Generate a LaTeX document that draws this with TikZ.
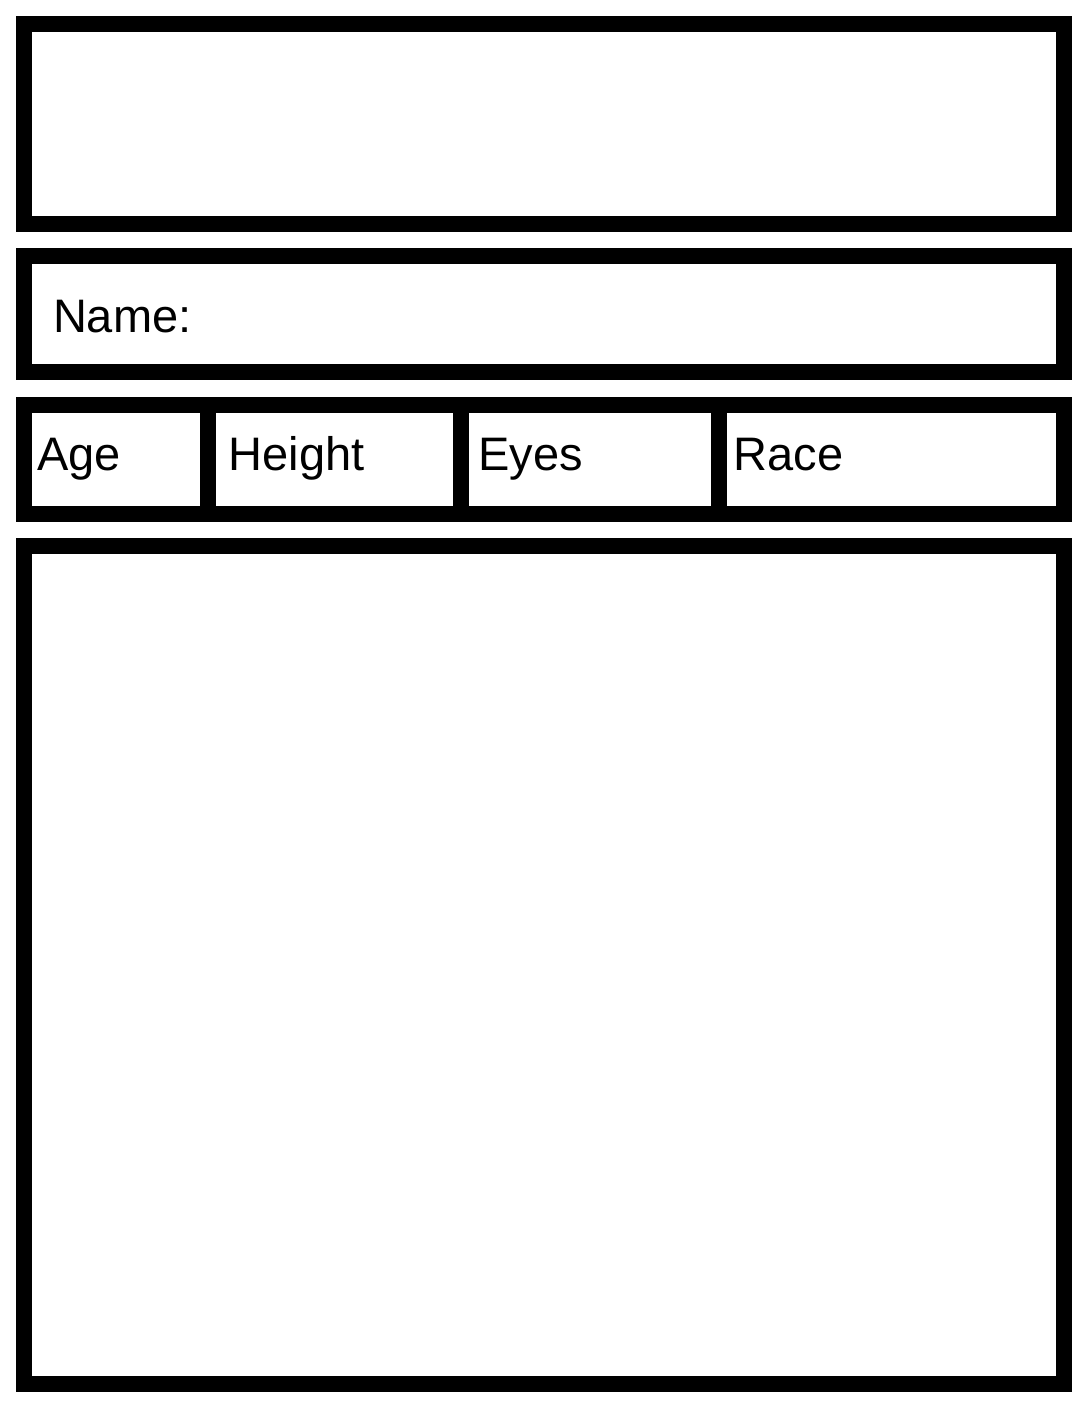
\documentclass[tikz,border=0pt]{standalone}
\usepackage{fontspec}
\setmainfont{Liberation Sans}
\begin{document}
\begin{tikzpicture}[x=1pt,y=-1pt,
  frame/.style={draw=black,line width=16pt,miter limit=10},
  label/.style={anchor=base west,inner sep=0pt,outer sep=0pt,font=\fontsize{47}{56}\selectfont}]
\useasboundingbox (0,0) rectangle (1088,1408);
\fill[white] (0,0) rectangle (1088,1408);
% boxes
\draw[frame] (24,24) rectangle (1064,224);
\draw[frame] (24,256) rectangle (1064,372);
\draw[frame] (24,405) rectangle (1064,514);
\draw[frame] (24,546) rectangle (1064,1384);
% dividers
\coordinate (d1t) at (207.5,405); \coordinate (d1b) at (207.5,514);
\coordinate (d2t) at (460.5,405); \coordinate (d2b) at (460.5,514);
\coordinate (d3t) at (718.5,405); \coordinate (d3b) at (718.5,514);
\draw[frame] (d1t) -- (d1b);
\draw[frame] (d2t) -- (d2b);
\draw[frame] (d3t) -- (d3b);
% labels
\node[label] (name) at (53,332) {Name:};
\node[label] (age) at (37,470) {Age};
\node[label] (height) at (228.5,470) {Height};
\node[label] (eyes) at (478.5,470) {Eyes};
\node[label] (race) at (733.5,470) {Race};
\end{tikzpicture}
\end{document}
